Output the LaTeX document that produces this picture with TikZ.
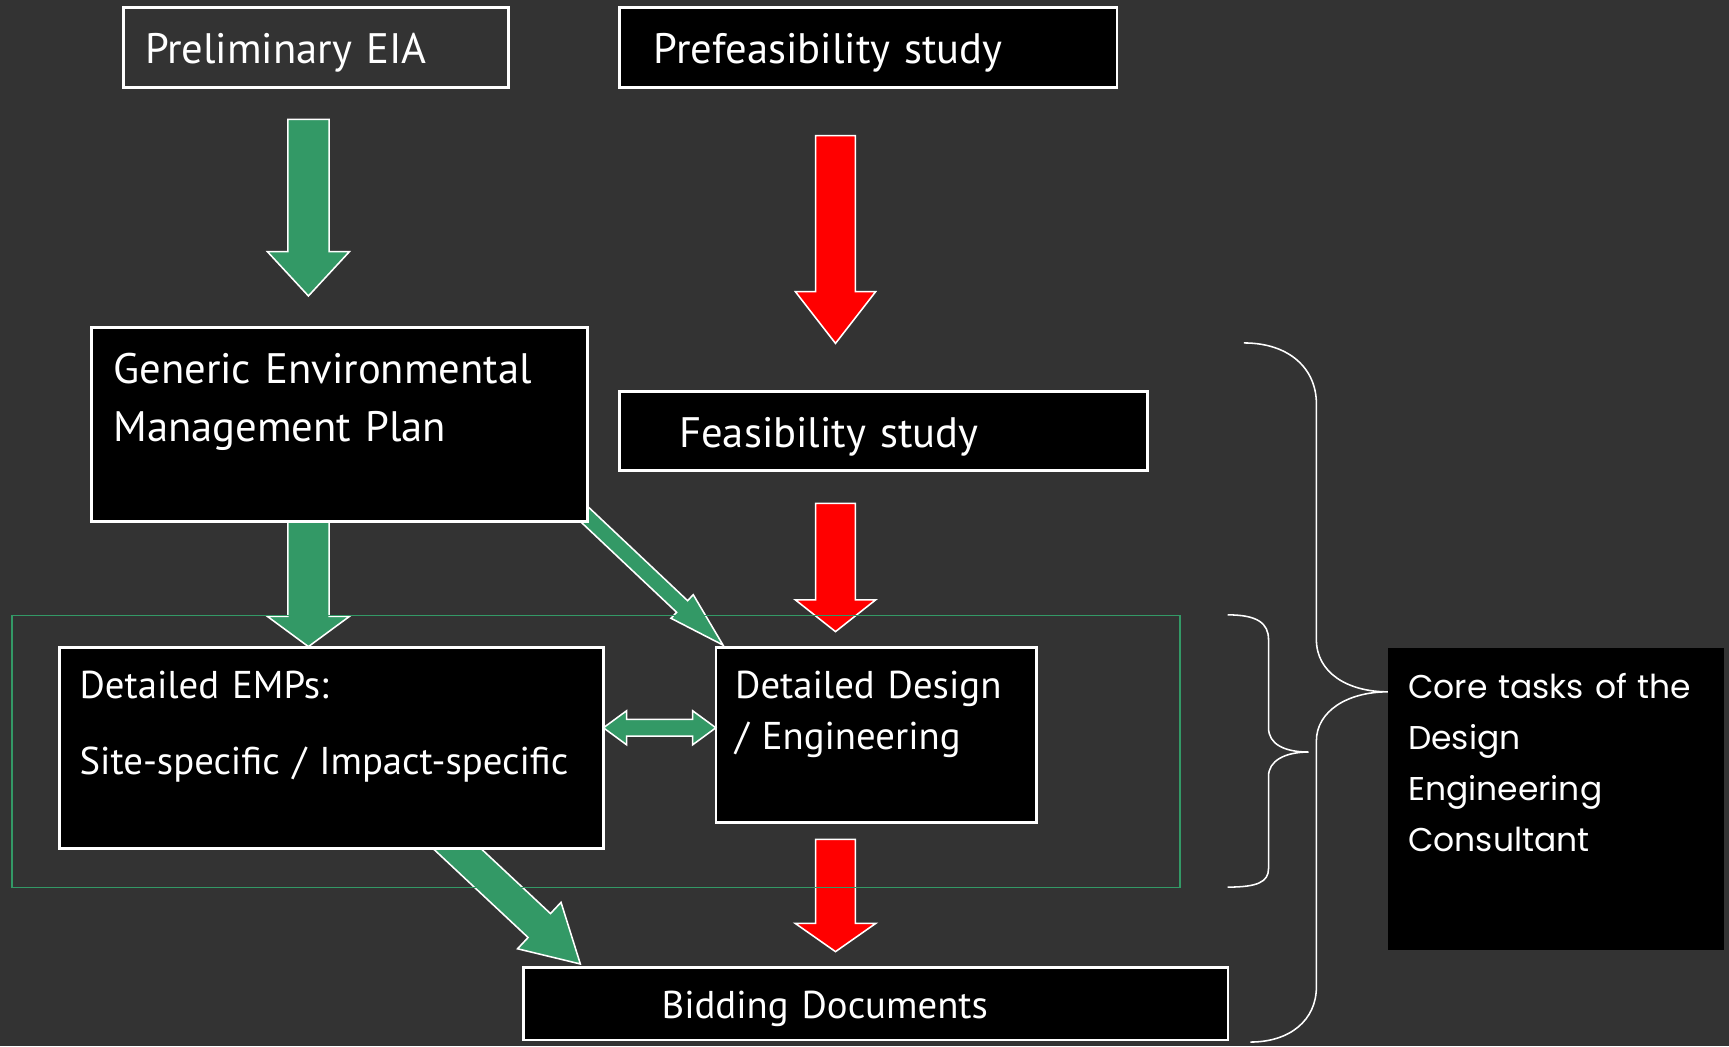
\documentclass[tikz,border=0pt]{standalone}
\usepackage{fontspec}
\setmainfont{PT Sans}
\newfontfamily\corefont{Poppins}
\usetikzlibrary{calc}
\definecolor{bgdark}{RGB}{51,51,51}
\definecolor{seagreen}{RGB}{51,153,102}

% colour, tail, tip, shaft half width, head half width, head length
\newcommand{\blockarrow}[6]{%
  \coordinate (ba-c) at ($(#3)!#6!(#2)$);
  \draw[white, line width=0.8pt, fill=#1]
    ($(#2)!#4!90:(#3)$) -- ($(ba-c)!#4!90:(#3)$) -- ($(ba-c)!#5!90:(#3)$) -- (#3)
    -- ($(ba-c)!#5!-90:(#3)$) -- ($(ba-c)!#4!-90:(#3)$) -- ($(#2)!#4!-90:(#3)$) -- cycle;
}

\tikzset{
  box/.style={draw=white, line width=1.4pt, fill=black, text=white, anchor=north west,
    align=left, inner ysep=0pt, outer sep=0pt},
  bigtext/.style={font=\fontsize{22}{30.2}\selectfont},
  smalltext/.style={font=\fontsize{20}{26.6}\selectfont}
}

\begin{document}
\begin{tikzpicture}[x=0.2mm, y=-0.2mm]
\useasboundingbox (0,0) rectangle (1568,949);
\fill[bgdark] (0,0) rectangle (1568,949);

% arrow ends
\coordinate (g1a) at (279.7,108.2);
\coordinate (g1b) at (279.7,268.4);
\coordinate (r1a) at (757.7,123);
\coordinate (r1b) at (757.7,311.4);
\coordinate (g2a) at (279.7,460);
\coordinate (g2b) at (279.7,586.4);
\coordinate (r2a) at (757.7,456.5);
\coordinate (r2b) at (757.7,572.8);
\coordinate (r3a) at (757.7,761.2);
\coordinate (r3b) at (757.7,863);
\coordinate (g3a) at (521.2,458.1);
\coordinate (g3b) at (655.7,585);
\coordinate (g4a) at (398.4,754.5);
\coordinate (g4b) at (526.3,874.2);

\blockarrow{seagreen}{g1a}{g1b}{3.74mm}{7.44mm}{8.04mm}
\blockarrow{red}{r1a}{r1b}{3.6mm}{7.28mm}{9.38mm}
\blockarrow{seagreen}{g2a}{g2b}{3.74mm}{7.44mm}{5.48mm}
\blockarrow{red}{r2a}{r2b}{3.6mm}{7.28mm}{5.76mm}
\blockarrow{red}{r3a}{r3b}{3.6mm}{7.3mm}{5.12mm}
\blockarrow{seagreen}{g3a}{g3b}{1.45mm}{2.94mm}{10.2mm}
\blockarrow{seagreen}{g4a}{g4b}{2.97mm}{5.77mm}{10.2mm}

% boxes
\node[box, bigtext, fill=none, inner xsep=3.9mm, text width=62mm, text height=10.1mm, text depth=4.34mm] (eia) at (112,7) {Preliminary EIA};
\node[box, bigtext, inner xsep=6.2mm, text width=77.8mm, text height=10.1mm, text depth=4.34mm] (prefeas) at (562,7) {Prefeasibility study};
\node[box, bigtext, inner xsep=3.9mm, text width=82.1mm, text height=10.14mm, text depth=25.1mm] (gemp) at (83.3,296.8) {Generic Environmental\\Management Plan};
\node[box, bigtext, inner xsep=10.8mm, text width=74.16mm, text height=10.1mm, text depth=4.22mm] (feas) at (562,355.2) {Feasibility study};
\node[box, smalltext, inner xsep=3.6mm, text width=91.4mm, text height=9.2mm, text depth=27.26mm] (emp) at (54.2,587.3) {Detailed EMPs:\\[4.5mm]Site-specific / Impact-specific};
\node[box, smalltext, inner xsep=3.5mm, text width=51.1mm, text height=9.2mm, text depth=22.56mm] (design) at (649.2,587.3) {Detailed Design\\/ Engineering};
\node[box, smalltext, inner xsep=25mm, text width=77.7mm, text height=9.18mm, text depth=3.94mm] (bid) at (475,877.6) {Bidding Documents};
\node[box, draw=none, font=\corefont\fontsize{17}{26.3}\selectfont, inner xsep=3.7mm, text width=53.5mm, text height=9.22mm, text depth=45.5mm] (core) at (1258.6,587.5) {Core tasks of the\\Design\\Engineering\\Consultant};

% double arrow between the detailed boxes
\coordinate (dl) at ($(emp.north east)+(0,72.7)$);
\coordinate (dr) at ($(design.north west)+(0,72.7)$);
\coordinate (dl-c) at ($(dl)!4.2mm!(dr)$);
\coordinate (dr-c) at ($(dr)!4.2mm!(dl)$);
\draw[white, line width=0.8pt, fill=seagreen]
  (dl) -- ($(dl-c)!3.08mm!90:(dr)$) -- ($(dl-c)!1.52mm!90:(dr)$) -- ($(dr-c)!1.52mm!90:(dr)$)
  -- ($(dr-c)!3.08mm!90:(dr)$) -- (dr) -- ($(dr-c)!3.08mm!-90:(dr)$) -- ($(dr-c)!1.52mm!-90:(dr)$)
  -- ($(dl-c)!1.52mm!-90:(dr)$) -- ($(dl-c)!3.08mm!-90:(dr)$) -- cycle;

% detailed stage frame
\draw[seagreen, line width=0.8pt] (10.9,558.3) rectangle (1070,804.7);

% braces
\coordinate (tip) at ($(core.north west)+(0,39.9)$);
\draw[white, line width=0.8pt] (1113.4,557.6) .. controls (1140,557.6) and (1150.4,565) .. (1150.4,580)
  -- (1150.4,660) .. controls (1150.4,675) and (1165,682) .. (1186.8,682)
  .. controls (1165,682) and (1150.4,690) .. (1150.4,704)
  -- (1150.4,787.7) .. controls (1150.4,800) and (1140,804.5) .. (1113.4,804.5);
\draw[white, line width=0.8pt] (1128,311) .. controls (1170,311) and (1193.8,335) .. (1193.8,366)
  -- (1193.8,580) .. controls (1193.8,610) and (1222,627.4) .. (tip)
  .. controls (1222,627.4) and (1193.8,645) .. (1193.8,672)
  -- (1193.8,895) .. controls (1193.8,925) and (1170,945) .. (1134,945);
\end{tikzpicture}
\end{document}
